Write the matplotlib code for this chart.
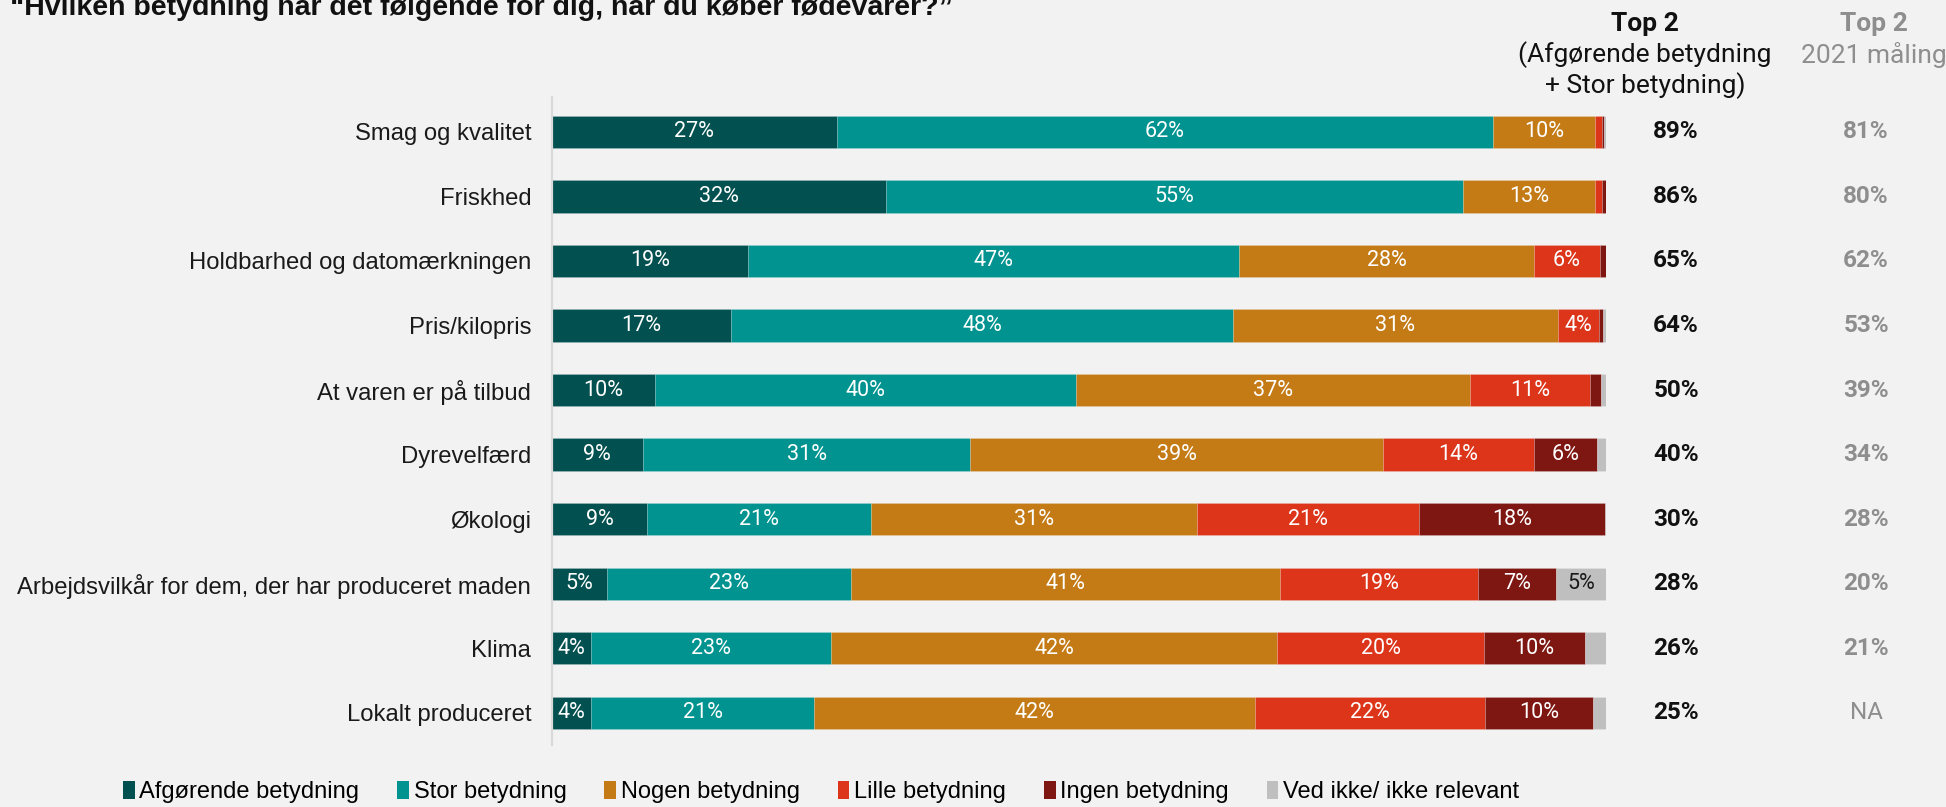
import matplotlib
matplotlib.use('Agg')
import matplotlib.pyplot as plt
from matplotlib.patches import Patch
import numpy as np

# data
categories = ['Smag og kvalitet', 'Friskhed', 'Holdbarhed og datomærkningen', 'Pris/kilopris',
              'At varen er på tilbud', 'Dyrevelfærd', 'Økologi',
              'Arbejdsvilkår for dem, der har produceret maden', 'Klima', 'Lokalt produceret']
series = ['Afgørende betydning', 'Stor betydning', 'Nogen betydning', 'Lille betydning',
          'Ingen betydning', 'Ved ikke/ ikke relevant']
afgoerende = [27.0, 31.7, 18.6, 17.0, 9.8, 8.6, 9.0, 5.2, 3.7, 3.7]
stor       = [62.3, 54.7, 46.6, 47.6, 39.9, 31.1, 21.3, 23.2, 22.8, 21.2]
nogen      = [9.7, 12.6, 28.0, 30.8, 37.4, 39.1, 30.9, 40.7, 42.3, 41.8]
lille      = [0.6, 0.6, 6.2, 3.9, 11.4, 14.4, 21.1, 18.8, 19.6, 21.8]
ingen      = [0.2, 0.4, 0.6, 0.4, 1.0, 5.9, 17.6, 7.4, 9.6, 10.3]
ved_ikke   = [0.2, 0.0, 0.0, 0.3, 0.5, 0.9, 0.1, 4.7, 2.0, 1.2]
top2       = ['89%', '86%', '65%', '64%', '50%', '40%', '30%', '28%', '26%', '25%']
top2_2021  = ['81%', '80%', '62%', '53%', '39%', '34%', '28%', '20%', '21%', 'NA']

colors = ['#02504F', '#009390', '#C47B16', '#DC3519', '#7E1712', '#BFBFBF']
label_colors = ['white', 'white', 'white', 'white', 'white', '#1A1A1A']
bg = '#F2F2F2'

W, H = 1946, 807
fig = plt.figure(figsize=(W / 100, H / 100), dpi=100, facecolor=bg)
ax = fig.add_axes([552 / W, 1 - 745 / H, 1054 / W, 648 / H], facecolor=bg)

y = np.arange(len(categories))
data = [afgoerende, stor, nogen, lille, ingen, ved_ikke]
left = np.zeros(len(categories))
for vals, col, lcol, name in zip(data, colors, label_colors, series):
  vals = np.array(vals)
  ax.barh(y, vals, left=left, height=0.5, color=col, label=name,
          edgecolor=(1, 1, 1, 0.2), linewidth=0.5)
  for yi, l, v in zip(y, left, vals):
    if v >= 3.0:
      ax.text(l + v / 2, yi, '{:.0f}%'.format(v), ha='center', va='center',
              color=lcol, fontsize=15.5, family='Roboto')
  left += vals

ax.set_xlim(0, 100)
ax.set_ylim(9.5, -0.54)
ax.set_yticks(y)
ax.set_yticklabels(categories, fontsize=17.2, family='Liberation Sans', color='#1A1A1A')
ax.tick_params(axis='y', length=0, pad=15)
ax.set_xticks([])
for s in ['top', 'right', 'bottom']:
  ax.spines[s].set_visible(False)
ax.spines['left'].set_color('#D9D9D9')
ax.spines['left'].set_linewidth(1.6)

# Top 2 columns
x_top2 = (1676 - 552) / 10.54
x_2021 = (1866 - 552) / 10.54
for yi, a, b in zip(y, top2, top2_2021):
  ax.text(x_top2, yi, a, ha='center', va='center', fontsize=17.5, fontweight='bold',
          family='Roboto', color='#111111', clip_on=False)
  ax.text(x_2021, yi, b, ha='center', va='center', fontsize=17.5,
          fontweight='normal' if b == 'NA' else 'bold',
          family='Roboto', color='#8E8E8E', clip_on=False)

hx1 = 1645 / W
hx2 = 1874 / W
fig.text(hx1, 1 - 24 / H, 'Top 2', ha='center', va='center', fontsize=19, fontweight='bold',
         family='Roboto', color='#111111')
fig.text(hx1, 1 - 55 / H, '(Afgørende betydning', ha='center', va='center', fontsize=19,
         family='Roboto', color='#111111')
fig.text(hx1, 1 - 86 / H, '+ Stor betydning)', ha='center', va='center', fontsize=19,
         family='Roboto', color='#111111')
fig.text(hx2, 1 - 24 / H, 'Top 2', ha='center', va='center', fontsize=19, fontweight='bold',
         family='Roboto', color='#8E8E8E')
fig.text(hx2, 1 - 55 / H, '2021 måling', ha='center', va='center', fontsize=19,
         family='Roboto', color='#8E8E8E')

# title, partly cut off at the top as in the reference
fig.text(10 / W, 1 - 15 / H, '\u201cHvilken betydning har det følgende for dig, når du køber fødevarer?\u201d',
         ha='left', va='baseline', fontsize=20.5, fontweight='bold', family='Liberation Sans',
         color='#111111')

handles = [Patch(facecolor=c, edgecolor='none') for c in colors]
fig.legend(handles, series, loc='center', bbox_to_anchor=(821 / W, 1 - 792 / H), ncol=6,
           frameon=False, handlelength=0.5, handleheight=0.8, handletextpad=0.2,
           columnspacing=1.6, prop={'family': 'Liberation Sans', 'size': 17})

fig.savefig('out.png', dpi=100, facecolor=bg)
